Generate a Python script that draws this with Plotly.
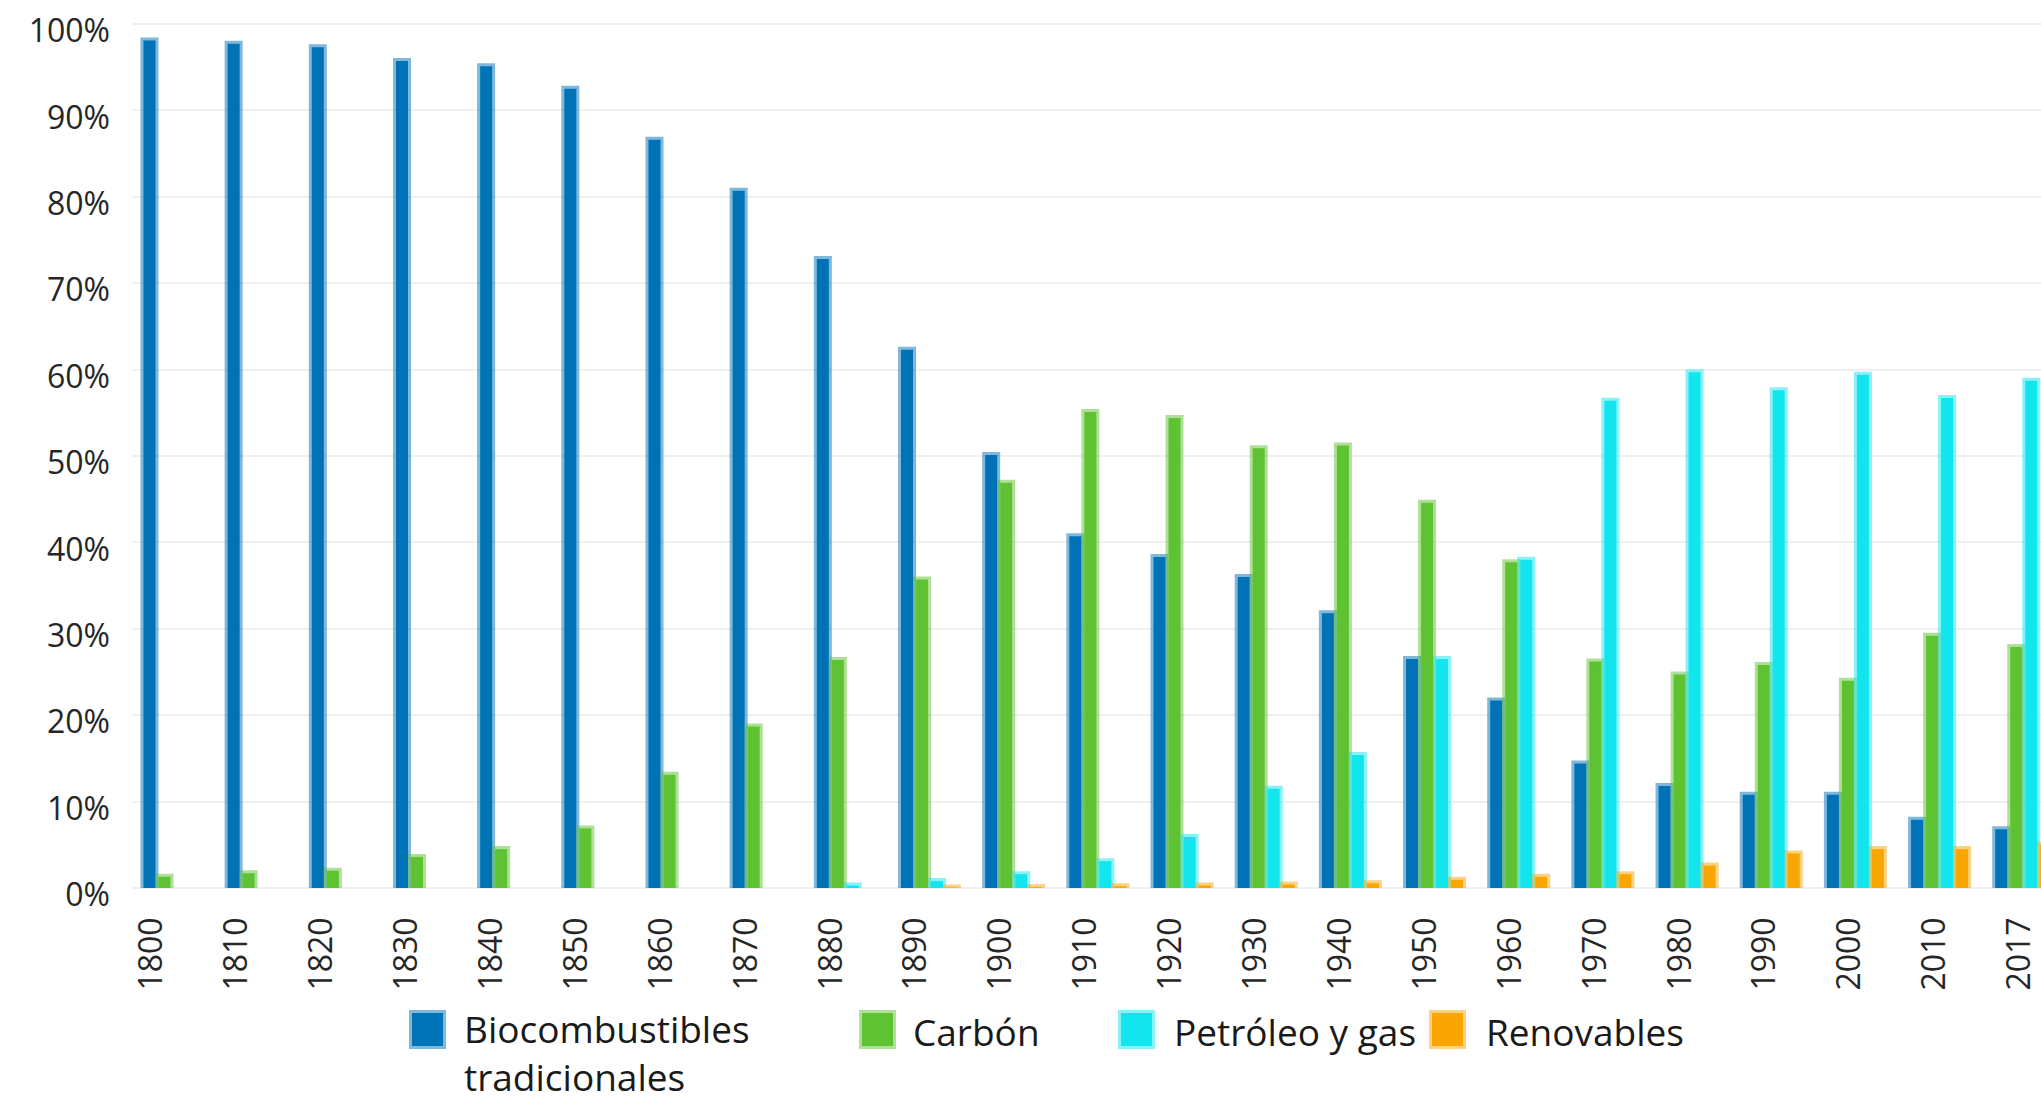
import plotly.graph_objects as go

# ---------------- data ----------------
years = ["1800", "1810", "1820", "1830", "1840", "1850", "1860", "1870", "1880", "1890",
         "1900", "1910", "1920", "1930", "1940", "1950", "1960", "1970", "1980", "1990",
         "2000", "2010", "2017"]

biocombustibles = [98.1, 97.7, 97.3, 95.7, 95.1, 92.5, 86.6, 80.7, 72.8, 62.3,
                   50.1, 40.7, 38.3, 36.0, 31.8, 26.5, 21.7, 14.4, 11.8, 10.8,
                   10.8, 7.9, 6.8]
carbon = [1.3, 1.7, 2.0, 3.6, 4.5, 6.9, 13.1, 18.7, 26.4, 35.7,
          46.9, 55.1, 54.4, 50.9, 51.2, 44.6, 37.7, 26.2, 24.7, 25.8,
          24.0, 29.2, 27.9]
petroleo_gas = [None, None, None, None, None, None, None, None, 0.3, 0.8,
                1.6, 3.1, 5.9, 11.5, 15.4, 26.5, 38.0, 56.4, 59.7, 57.6,
                59.4, 56.7, 58.7]
renovables = [None, None, None, None, None, None, None, None, None, 0.05,
              0.1, 0.2, 0.3, 0.4, 0.55, 0.95, 1.3, 1.6, 2.6, 4.0,
              4.5, 4.5, 5.0]

series_names = ["Biocombustibles tradicionales", "Carbón", "Petróleo y gas", "Renovables"]
series_values = [biocombustibles, carbon, petroleo_gas, renovables]
legend_labels = ["Biocombustibles<br>tradicionales", "Carbón", "Petróleo y gas", "Renovables"]
y_ticks = [0, 10, 20, 30, 40, 50, 60, 70, 80, 90, 100]
y_tick_labels = ["0%", "10%", "20%", "30%", "40%", "50%", "60%", "70%", "80%", "90%", "100%"]

# ---------------- style ----------------
colors = ["#0072B6", "#5FC232", "#13E5EF", "#F9A602"]
light = ["rgba(0,114,182,0.5)", "rgba(95,194,50,0.5)", "rgba(19,229,239,0.5)", "rgba(249,166,2,0.5)"]
FONT = "Open Sans"
TXT = "#262626"

W, H = 2041, 1105
ML, MR, MT, MB = 132, 0, 11, 217
PW = W - ML - MR
PH = H - MT - MB


def px2x(px):
    return (px - ML) / PW


def py2y(py):
    return (H - MB - py) / PH


fig = go.Figure()
for name, vals, c, lc in zip(series_names, series_values, colors, light):
    fig.add_trace(go.Bar(
        x=years, y=vals, name=name, showlegend=False,
        marker=dict(color=c, line=dict(color=lc, width=6)),
    ))

# invisible helper trace so that the label axis is drawn
fig.add_trace(go.Scatter(x=[0], y=[0], xaxis="x2", mode="none",
                         showlegend=False, hoverinfo="skip"))

fig.update_layout(
    width=W, height=H,
    margin=dict(l=ML, r=MR, t=MT, b=MB, pad=0),
    paper_bgcolor="white", plot_bgcolor="white",
    barmode="group", bargap=0.287, bargroupgap=0.2,
    font=dict(family=FONT, color=TXT),
    showlegend=False,
    xaxis=dict(type="category", categoryorder="array", categoryarray=years,
               range=[-0.475, 22.205], showticklabels=False, showgrid=False,
               zeroline=False, showline=False, ticks=""),
    xaxis2=dict(type="linear", overlaying="x", anchor="y", side="bottom",
                range=[-0.2356, 22.25], tickmode="array",
                tickvals=list(range(len(years))), ticktext=years,
                tickangle=-90, tickfont=dict(size=32, family=FONT, color=TXT),
                showgrid=False, zeroline=False, showline=False, ticks="",
                ticklabelstandoff=22),
    yaxis=dict(range=[0, 101.5], tickmode="array", tickvals=y_ticks,
               ticktext=y_tick_labels, ticklabeloverflow="allow",
               tickfont=dict(size=32, family=FONT, color=TXT),
               showgrid=True, gridcolor="#F0F0F0", gridwidth=2,
               zeroline=True, zerolinecolor="#F0F0F0", zerolinewidth=2,
               showline=False, ticks="", ticklabelstandoff=21,
               ticklabelshift=7),
)

# ---------------- legend (drawn manually to match swatch size) ----------------
legend_swatch_left = [412, 862, 1121, 1432]
legend_text_left = [462, 911, 1172, 1484]
LEG_MID = 1031
for sx, tx, label, c, lc in zip(legend_swatch_left, legend_text_left, legend_labels, colors, light):
    fig.add_shape(type="rect", xref="paper", yref="paper",
                  x0=px2x(sx), x1=px2x(sx + 31),
                  y0=py2y(LEG_MID - 18), y1=py2y(LEG_MID + 15),
                  fillcolor=c, line=dict(color=lc, width=6))
    if "<br>" in label:
        fig.add_annotation(text=label, xref="paper", yref="paper",
                           x=px2x(tx), y=py2y(H - 1), align="left",
                           xanchor="left", yanchor="bottom", showarrow=False,
                           font=dict(size=37, family=FONT, color="#1A1A1A"))
    else:
        fig.add_annotation(text=label, xref="paper", yref="paper",
                           x=px2x(tx), y=py2y(LEG_MID),
                           xanchor="left", yanchor="middle", showarrow=False,
                           font=dict(size=37, family=FONT, color="#1A1A1A"))

fig.write_html("out.html")
